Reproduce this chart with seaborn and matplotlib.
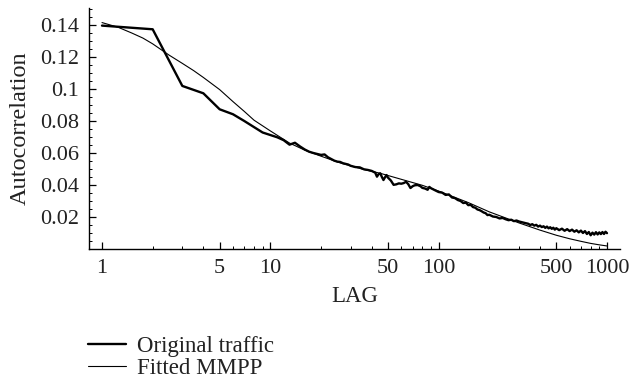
import numpy as np
import pandas as pd
import matplotlib
matplotlib.use("Agg")
import matplotlib.pyplot as plt
from matplotlib.ticker import FixedLocator, FuncFormatter, MultipleLocator
import seaborn as sns

orig_lag = [1, 2, 3, 4, 5, 6, 7, 8, 9, 10, 11, 12, 13, 14, 15, 16, 17, 18, 19, 20,
            21, 22, 23, 24, 25, 26, 27, 28, 29, 30, 32, 34, 36, 38, 40, 42, 43, 44, 45, 46,
            47, 48, 49, 50, 52, 54, 56, 58, 60, 62, 64, 66, 68, 70, 72, 75, 78, 80, 83, 86,
            88, 90, 93, 96, 100,
            105, 110, 115, 120, 125, 130, 135, 140, 145, 150, 155, 160, 165, 170, 175, 180,
            185, 190, 195, 200, 210, 220, 230, 240, 250, 260, 270, 280, 290, 300, 310, 320,
            330, 340, 350, 360, 370, 380, 390, 400, 410, 420, 430, 440, 450, 460, 470, 480,
            490, 500, 520, 540, 560, 580, 600, 620, 640, 660, 680, 700, 720, 740, 760, 780,
            800, 820, 840, 860, 880, 900, 920, 940, 960, 980, 1000]
orig_acf = [0.1396, 0.1373, 0.1019, 0.0973, 0.0873, 0.0842, 0.0800, 0.0762, 0.0728, 0.0712,
            0.0698, 0.0680, 0.0652, 0.0664, 0.0641, 0.0622, 0.0608, 0.0600, 0.0594, 0.0588,
            0.0591, 0.0573, 0.0562, 0.0552, 0.0546, 0.0544, 0.0536, 0.0532, 0.0528, 0.0520,
            0.0512, 0.0510, 0.0498, 0.0494, 0.0488, 0.0477, 0.0452, 0.0468, 0.0473, 0.0450,
            0.0431, 0.0448, 0.0462, 0.0446, 0.0428, 0.0401, 0.0404, 0.0410, 0.0408, 0.0412,
            0.0420, 0.0405, 0.0381, 0.0392, 0.0398, 0.0400, 0.0392, 0.0382, 0.0378, 0.0370,
            0.0388, 0.0380, 0.0372, 0.0365, 0.0356,
            0.0352, 0.0338, 0.0341, 0.0322, 0.0318, 0.0306, 0.0300, 0.0287, 0.0290, 0.0274,
            0.0276, 0.0262, 0.0258, 0.0247, 0.0243, 0.0236, 0.0228, 0.0224, 0.0212, 0.0214,
            0.0203, 0.0200, 0.0191, 0.0194, 0.0186, 0.0180, 0.0183, 0.0174, 0.0178, 0.0172,
            0.0168, 0.0164, 0.0161, 0.0158, 0.0150, 0.0155, 0.0146, 0.0151, 0.0140, 0.0146,
            0.0137, 0.0142, 0.0132, 0.0140, 0.0129, 0.0136, 0.0126, 0.0133, 0.0121, 0.0130,
            0.0118, 0.0127, 0.0114, 0.0124, 0.0112, 0.0121, 0.0108, 0.0117, 0.0104, 0.0115,
            0.0100, 0.0112, 0.0094, 0.0106, 0.0086, 0.0102, 0.0090, 0.0105, 0.0091, 0.0104,
            0.0093, 0.0106, 0.0094, 0.0108, 0.0099]

# fitted MMPP curve
fit_lag = [1, 1.25, 1.5, 1.75, 2, 2.5, 3, 3.5, 4, 5, 6, 7, 8, 10, 13, 16, 20, 26, 35, 45,
           65, 80, 100, 150, 200, 300, 400, 500, 600, 700, 800, 900, 1000]
fit_acf = [0.1415, 0.1385, 0.1350, 0.1318, 0.1282, 0.1212, 0.1160, 0.1115, 0.1072, 0.0996,
           0.0921, 0.0860, 0.0805, 0.0738, 0.0662, 0.0618, 0.0580, 0.0538, 0.0500, 0.0473,
           0.0425, 0.0398, 0.0362, 0.0290, 0.0232, 0.0163, 0.0118, 0.0086, 0.0064, 0.0048,
           0.0035, 0.0026, 0.0019]

x_major = [1, 5, 10, 50, 100, 500, 1000]

df_orig = pd.DataFrame({"lag": orig_lag, "acf": orig_acf})
df_fit = pd.DataFrame({"lag": fit_lag, "acf": fit_acf})

sns.set_theme(style="ticks")
plt.rcParams["font.family"] = ["Liberation Serif", "DejaVu Serif"]
fs = 16
txt = "#222222"

fig = plt.figure(figsize=(6.3, 3.82), dpi=100)
ax = fig.add_axes([89 / 630, 1 - 249 / 382, 531 / 630, 241 / 382])

sns.lineplot(data=df_orig, x="lag", y="acf", ax=ax, color="black", linewidth=1.7,
             label="Original traffic", legend=False)
sns.lineplot(data=df_fit, x="lag", y="acf", ax=ax, color="black", linewidth=0.8,
             label="Fitted MMPP", legend=False)

ax.set_xscale("log")
ax.set_xlim(0.837, 1195)
ax.set_ylim(0, 0.1506)

ax.xaxis.set_major_locator(FixedLocator(x_major))
ax.xaxis.set_major_formatter(FuncFormatter(lambda v, p: "%g" % v))
minors = [m * d for d in [1, 10, 100] for m in range(2, 10)]
ax.xaxis.set_minor_locator(FixedLocator([m for m in minors if m not in x_major]))
ax.xaxis.set_minor_formatter(FuncFormatter(lambda v, p: ""))

ax.yaxis.set_major_locator(FixedLocator([0.02, 0.04, 0.06, 0.08, 0.1, 0.12, 0.14]))
ax.yaxis.set_major_formatter(FuncFormatter(lambda v, p: "%g" % round(v, 2)))
ax.yaxis.set_minor_locator(MultipleLocator(0.005))

ax.tick_params(which="major", direction="in", length=5, width=0.9, color="black",
               labelsize=fs, labelcolor=txt, pad=7)
ax.tick_params(which="minor", direction="in", length=2.5, width=0.7, color="black")

for s in ["top", "right"]:
    ax.spines[s].set_visible(False)
for s in ["left", "bottom"]:
    ax.spines[s].set_linewidth(1.0)
    ax.spines[s].set_color("black")

ax.set_xlabel("LAG", fontsize=fs + 0.5, color=txt, labelpad=6)
ax.set_ylabel("Autocorrelation", fontsize=fs + 1.5, color=txt, labelpad=7)

handles, labels = ax.get_legend_handles_labels()
fig.legend(handles, labels, loc="upper left", bbox_to_anchor=(88 / 630, 1 - 336 / 382),
           frameon=False, fontsize=fs + 0.5, handlelength=1.65, handletextpad=0.5,
           labelspacing=0.05, borderpad=0, borderaxespad=0, labelcolor=txt)

plt.savefig("out.png", dpi=100)
